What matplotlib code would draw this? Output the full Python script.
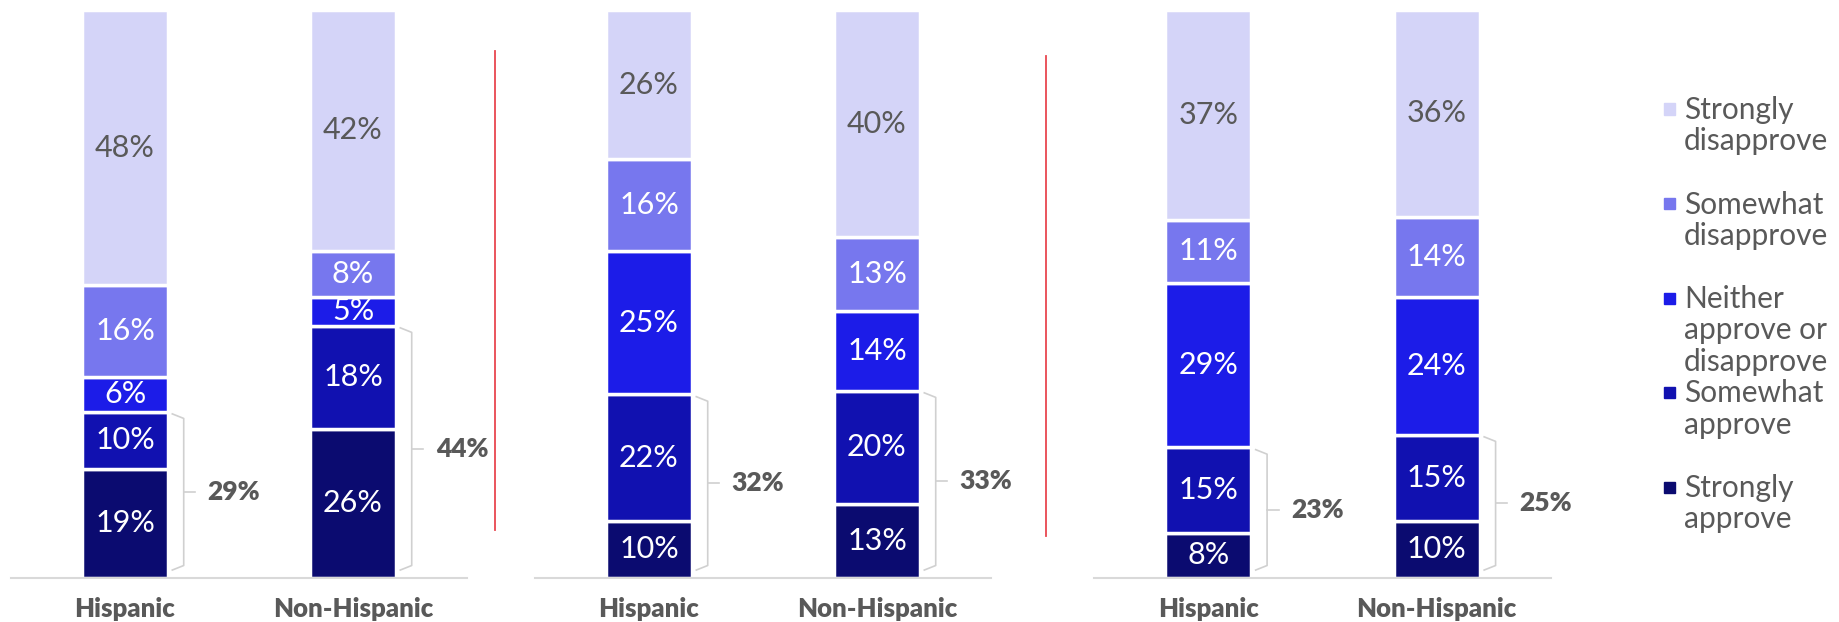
import numpy as np
import matplotlib
matplotlib.use("Agg")
import matplotlib.pyplot as plt
from matplotlib.patches import Rectangle
from matplotlib.lines import Line2D

plt.rcParams['font.family'] = ['Lato', 'DejaVu Sans']

groups = ["Hispanic", "Non-Hispanic"]
levels = ["Strongly approve", "Somewhat approve", "Neither approve or disapprove",
          "Somewhat disapprove", "Strongly disapprove"]
legend_labels = ["Strongly\napprove", "Somewhat\napprove", "Neither\napprove or\ndisapprove",
                 "Somewhat\ndisapprove", "Strongly\ndisapprove"]
colors = ["#0B0B70", "#1111B0", "#1C1CE8", "#7777EE", "#D4D4F8"]

# values per group, bottom (strongly approve) to top (strongly disapprove)
panel1 = [[19, 10, 6, 16, 48], [26, 18, 5, 8, 42]]
panel2 = [[10, 22, 25, 16, 26], [13, 20, 14, 13, 40]]
panel3 = [[8, 15, 29, 11, 37], [10, 15, 24, 14, 36]]
approve_totals = [[29, 44], [32, 33], [23, 25]]

W, H = 1839, 622
fig = plt.figure(figsize=(W / 100, H / 100), dpi=100)

# axes placement in pixels (left, right)
panel_px = [(11, 467), (535, 991), (1094, 1551)]
ax_bottom_px, ax_top_px = 578, 10
gray = "#595959"
bar_w = 0.375

for p, (data, totals) in enumerate(zip([panel1, panel2, panel3], approve_totals)):
    l, r = panel_px[p]
    ax = fig.add_axes([l / W, 1 - ax_bottom_px / H, (r - l) / W, (ax_bottom_px - ax_top_px) / H])
    for i, vals in enumerate(data):
        vals = np.array(vals, dtype=float)
        norm = vals / vals.sum() * 100
        bottom = 0
        for k in range(len(levels)):
            ax.bar(i, norm[k], bottom=bottom, width=bar_w, color=colors[k],
                   edgecolor="white", linewidth=2.5)
            ax.text(i, bottom + norm[k] / 2, f"{int(vals[k])}%", ha="center", va="center",
                    fontsize=22, color=gray if k == 4 else "white")
            bottom += norm[k]

        # brace around the approve segments
        top = norm[0] + norm[1] - 0.4
        ybot = 1.4
        mid = (top + ybot) / 2
        xr = i + bar_w / 2
        x0, x1, x2 = xr + 0.02, xr + 0.07, xr + 0.12
        ax.plot([x0, x1, x1, x0], [top, top - 0.8, ybot + 0.8, ybot], color="#D0D0D0", lw=1.2)
        ax.plot([x1, x2], [mid, mid], color="#D0D0D0", lw=1.2)
        ax.text(xr + 0.175, mid, f"{totals[i]}%", ha="left", va="center",
                fontsize=19, fontweight="heavy", color=gray)

    ax.set_xlim(-0.5, 1.5)
    ax.set_ylim(0, 100)
    ax.set_xticks([0, 1])
    ax.set_xticklabels(groups, fontsize=18.5, fontweight="heavy", color=gray)
    ax.tick_params(axis="x", length=0, pad=14)
    ax.set_yticks([])
    for s in ["top", "right", "left"]:
        ax.spines[s].set_visible(False)
    ax.spines["bottom"].set_color("#D9D9D9")
    ax.spines["bottom"].set_linewidth(1.5)

# red separators
for x, y0, y1 in [(495, 51, 530), (1046, 56, 536)]:
    fig.add_artist(Line2D([x / W, x / W], [1 - y0 / H, 1 - y1 / H], color="#E8474F", lw=1.3))

# legend, top entry is strongly disapprove
for j, k in enumerate(range(len(levels) - 1, -1, -1)):
    yc = 109 + 94.5 * j
    fig.add_artist(Rectangle((1664 / W, 1 - (yc + 5.5) / H), 11 / W, 11 / H,
                             transform=fig.transFigure, color=colors[k]))
    fig.text(1684 / W, 1 - (yc - 13) / H, legend_labels[k], ha="left", va="top",
             fontsize=21.5, color=gray, linespacing=1.15)

fig.savefig("out.png", dpi=100)
